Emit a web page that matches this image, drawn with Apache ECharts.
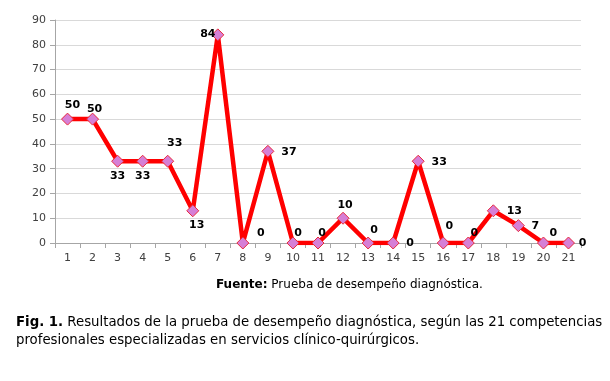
<!DOCTYPE html>
<html><head><meta charset="utf-8">
<script src="https://cdn.jsdelivr.net/npm/echarts@6/dist/echarts.min.js"></script>
<style>html,body{margin:0;padding:0;background:#fff}#c{width:610px;height:381px}</style>
</head><body><div id="c"></div>
<script>
const categories = ['1','2','3','4','5','6','7','8','9','10','11','12','13','14','15','16','17','18','19','20','21'];
const values = [50,50,33,33,33,13,84,0,37,0,0,10,0,0,33,0,0,13,7,0,0];
const yTicks = [0,10,20,30,40,50,60,70,80,90];
// label offsets (layout only)
const labelOffsets = [[5,-14],[2,-10],[0,15],[0,15],[7,-18],[4,14],[-10,-1],[18,-10],[21,1],[5,-10],[4,-10],[2,-13],[6,-13],[17,0],[21,1],[6,-17],[6,-10],[21,0],[17,0],[10,-10],[14,0]];

const chart = echarts.init(document.getElementById('c'));
const font = 'Verdana, "DejaVu Sans", sans-serif';
chart.setOption({
  animation:false,
  grid:{left:55,right:29,top:20,bottom:138},
  xAxis:{type:'category',data:categories,boundaryGap:true,
    axisLine:{lineStyle:{color:'#a6a6a6'}},
    axisTick:{show:true,length:5,lineStyle:{color:'#a6a6a6'}},
    axisLabel:{color:'#404040',fontFamily:font,fontSize:11,margin:10}},
  yAxis:{type:'value',min:yTicks[0],max:yTicks[yTicks.length-1],interval:10,
    axisLine:{show:true,lineStyle:{color:'#a6a6a6'}},
    axisTick:{show:true,length:5,lineStyle:{color:'#a6a6a6'}},
    splitLine:{lineStyle:{color:'#d9d9d9'}},
    axisLabel:{color:'#404040',fontFamily:font,fontSize:11,margin:9}},
  series:[{type:'line',
    data:values.map((v,i)=>({value:v,label:{offset:labelOffsets[i]}})),
    lineStyle:{color:'#ff0000',width:4.5},
    symbol:'diamond',symbolSize:12,
    itemStyle:{color:'#d67fd6',borderColor:'#e8293b',borderWidth:1},
    label:{show:true,position:'inside',fontFamily:font,fontSize:11,fontWeight:'bold',color:'#000'},
    z:3}],
  graphic:[
    {type:'text',left:216,top:279,style:{text:'{b|Fuente:} Prueba de desempeño diagnóstica.',
      rich:{b:{fontWeight:'bold',fontFamily:font,fontSize:12,fill:'#000'}},
      font:'12px '+font,fill:'#000'}},
    {type:'text',left:16,top:316,style:{text:'{b|Fig. 1.} Resultados de la prueba de desempeño diagnóstica, según las 21 competencias',
      rich:{b:{fontWeight:'bold',fontFamily:font,fontSize:13.3,fill:'#000'}},
      font:'13.3px '+font,fill:'#000'}},
    {type:'text',left:16,top:334,style:{text:'profesionales especializadas en servicios clínico-quirúrgicos.',
      font:'13.3px '+font,fill:'#000'}}
  ]
});
</script></body></html>
